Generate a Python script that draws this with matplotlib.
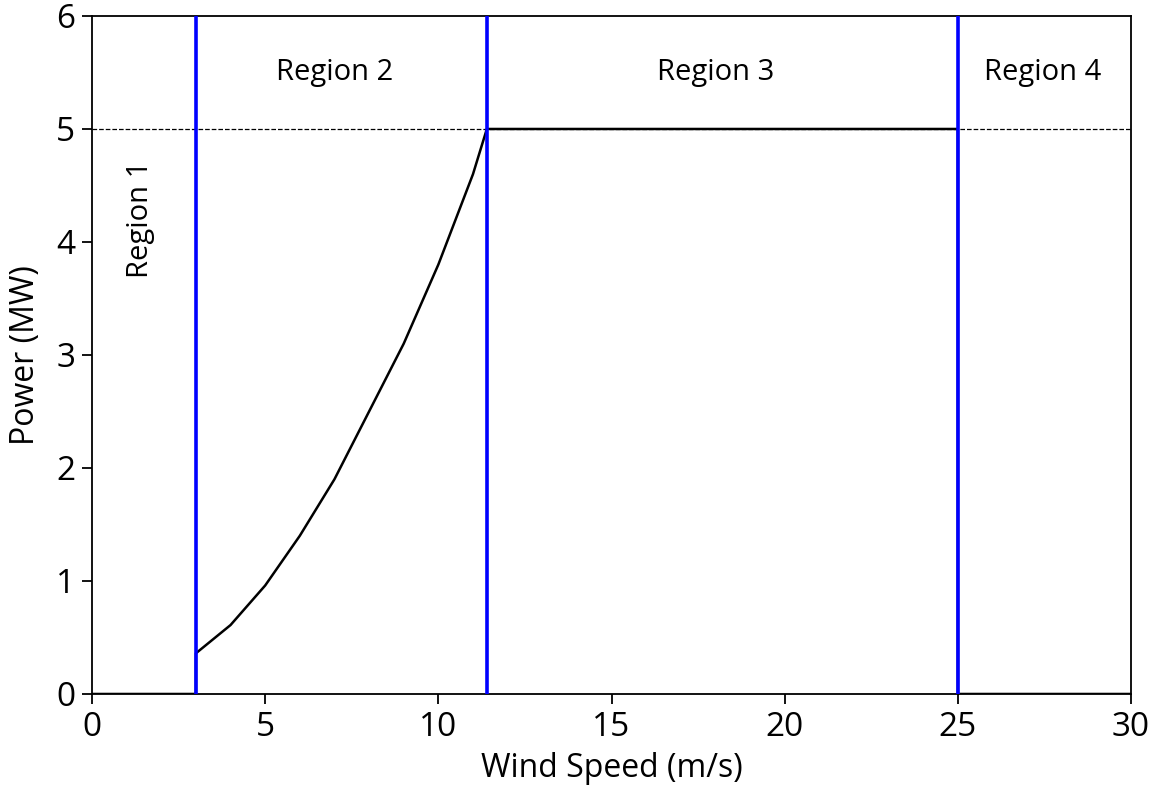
import numpy as np
import matplotlib
matplotlib.use('Agg')
import matplotlib.pyplot as plt

plt.rcParams['font.family'] = ['Open Sans', 'DejaVu Sans']

# power curve
wind = [0, 3, 3, 4, 5, 6, 7, 8, 9, 10, 11, 11.4, 25, 25, 30]
power = [0, 0, 0.36, 0.61, 0.96, 1.4, 1.9, 2.5, 3.1, 3.8, 4.6, 5.0, 5.0, 0, 0]
boundaries = [3, 11.4, 25]
rated = 5
region_labels = ['Region 1', 'Region 2', 'Region 3', 'Region 4']
region_x = [1.4, 7.0, 18.0, 27.45]
region_y = [4.2, 5.5, 5.5, 5.5]

fig = plt.figure(figsize=(11.5, 7.87), dpi=100)
ax = fig.add_axes([0.08, 0.1182, 0.9035, 0.8615])

ax.axhline(rated, color='black', linestyle='--', linewidth=0.9)
ax.plot(wind, power, color='black', linewidth=1.8, zorder=3)
for b in boundaries:
    ax.axvline(b, color='blue', linewidth=2.6, zorder=4)

for i, lab in enumerate(region_labels):
    rot = 90 if i == 0 else 0
    ax.text(region_x[i], region_y[i], lab, rotation=rot, ha='center', va='center', fontsize=21)

ax.set_xlim(0, 30)
ax.set_ylim(0, 6)
ax.set_xticks([0, 5, 10, 15, 20, 25, 30])
ax.set_yticks([0, 1, 2, 3, 4, 5, 6])
ax.tick_params(labelsize=24, length=7, width=1.3, pad=5)
for s in ax.spines.values():
    s.set_linewidth(1.3)
ax.set_xlabel('Wind Speed (m/s)', fontsize=23, labelpad=6)
ax.set_ylabel('Power (MW)', fontsize=23, labelpad=10)

fig.savefig('out.png', dpi=100)
